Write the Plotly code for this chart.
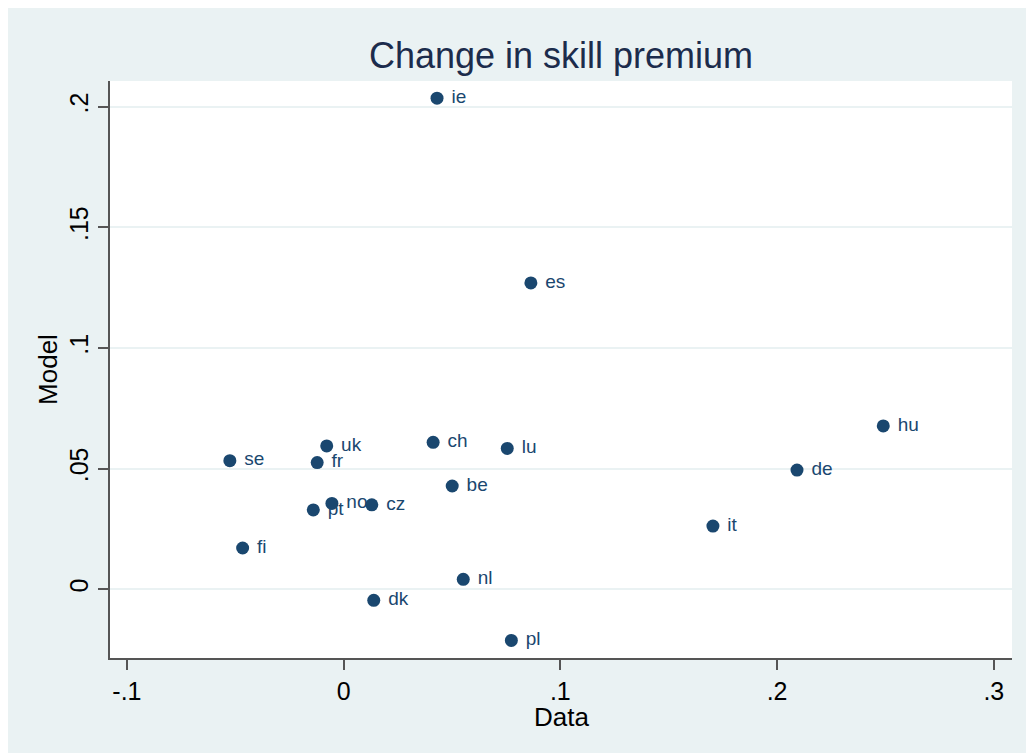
import plotly.graph_objects as go

countries = ["ie", "es", "hu", "de", "it", "ch", "lu", "be", "nl", "pl",
             "dk", "cz", "no", "pt", "uk", "fr", "se", "fi"]
data_x = [0.0431, 0.0864, 0.2490, 0.2092, 0.1704, 0.0413, 0.0755, 0.0501, 0.0552, 0.0774,
          0.0139, 0.0130, -0.0054, -0.0140, -0.0078, -0.0122, -0.0525, -0.0466]
model_y = [0.2036, 0.1270, 0.0677, 0.0494, 0.0262, 0.0609, 0.0584, 0.0428, 0.0041, -0.0212,
           -0.0046, 0.0350, 0.0356, 0.0329, 0.0594, 0.0525, 0.0533, 0.0171]

x_ticks = [-0.1, 0, 0.1, 0.2, 0.3]
x_tick_labels = ["-.1", "0", ".1", ".2", ".3"]
y_ticks = [0, 0.05, 0.1, 0.15, 0.2]
y_tick_labels = ["0", ".05", ".1", ".15", ".2"]

NAVY = "#1a476f"
BG = "#eaf2f3"
FONT = "Liberation Sans, Arial, sans-serif"

W, H = 1034, 753
L, T = 102, 73
PW, PH = 902, 577
R = W - L - PW
B = H - T - PH

fig = go.Figure()
fig.add_trace(go.Scatter(
    x=data_x, y=model_y, text=countries, mode="markers+text",
    texttemplate=" %{text}",
    textposition="middle right",
    marker=dict(color=NAVY, size=13),
    textfont=dict(color=NAVY, size=19, family=FONT),
    hoverinfo="skip", showlegend=False,
))

fig.add_annotation(text="Data", xref="paper", yref="paper", x=0.5, y=-59 / PH,
                   xanchor="center", yanchor="middle", showarrow=False,
                   font=dict(size=26, color="black", family=FONT))

fig.update_layout(
    width=W, height=H,
    margin=dict(l=L, r=R, t=T, b=B, pad=0),
    paper_bgcolor=BG, plot_bgcolor="white",
    font=dict(family=FONT, color="black"),
    title=dict(text="Change in skill premium", x=0.5, xref="paper",
               y=1 - 47 / H, yref="container", yanchor="middle", xanchor="center",
               font=dict(size=36, color="#1c2c4c", family=FONT)),
    xaxis=dict(range=[-0.1078, 0.3084], tickvals=x_ticks, ticktext=x_tick_labels,
               showgrid=False, zeroline=False, showline=True, linecolor="#555555",
               linewidth=1.5, ticks="outside", ticklen=10, tickcolor="#555555",
               tickwidth=1.5, tickfont=dict(size=25, color="black")),
    yaxis=dict(range=[-0.0285, 0.2107], tickvals=y_ticks, ticktext=y_tick_labels,
               showgrid=True, gridcolor=BG, gridwidth=2, zeroline=False,
               showline=True, linecolor="#555555", linewidth=1.5,
               ticks="outside", ticklen=10, tickcolor="#555555", tickwidth=1.5,
               tickangle=-90, tickfont=dict(size=25, color="black"),
               title=dict(text="Model", font=dict(size=26, color="black"), standoff=0)),
)

fig.write_html("out.html")
